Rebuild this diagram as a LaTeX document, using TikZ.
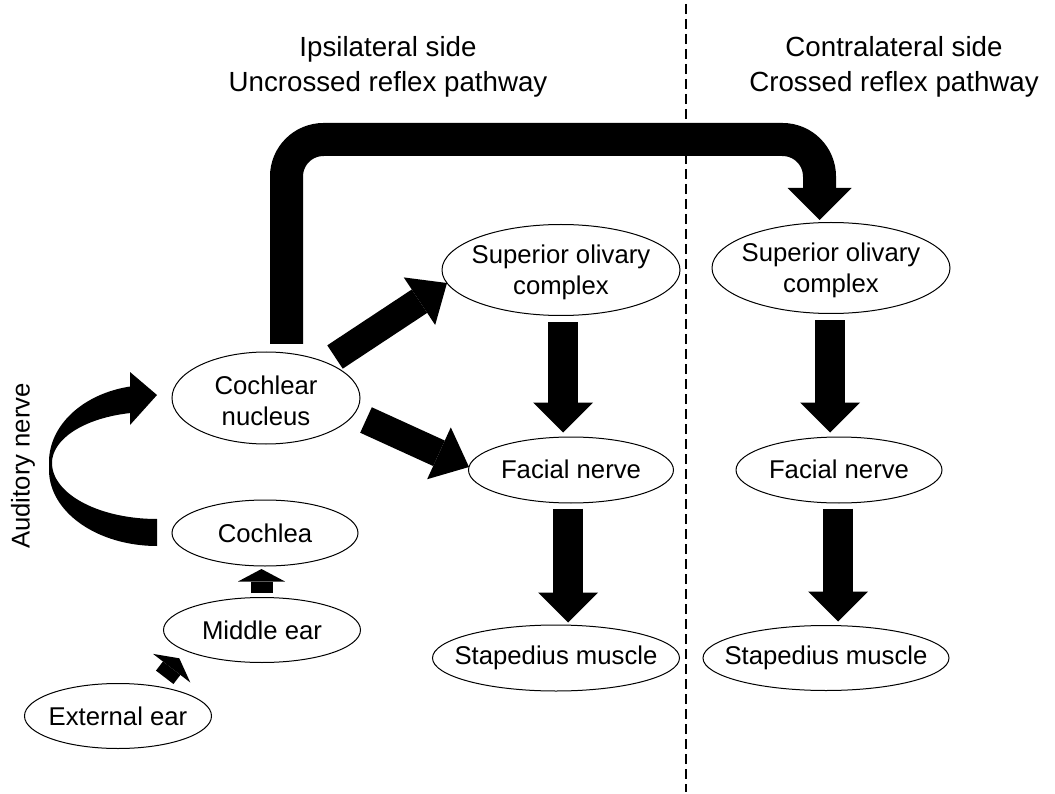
\documentclass[tikz,border=0pt]{standalone}
\usepackage{fontspec}
\setmainfont{Liberation Sans}
\usetikzlibrary{arrows.meta,shapes.geometric}
\begin{document}
\begin{tikzpicture}[x=1pt,y=-1pt,
  ell/.style={draw, ellipse, line width=1pt, inner sep=0pt},
  txt/.style={font=\fontsize{25.7}{31}\selectfont, align=center, inner sep=0pt},
  hdr/.style={font=\fontsize{27.7}{33}\selectfont, inner sep=0pt, anchor=base},
  blkv/.style={line width=30pt, -{Triangle[width=60pt,length=30pt,line width=0pt]}},
  blkd/.style={line width=28pt, -{Triangle[width=57pt,length=33pt,line width=0pt]}},
  blkbig/.style={line width=33pt, -{Triangle[width=64pt,length=32pt,line width=0pt]}},
  blks/.style={line width=22pt, -{Triangle[width=47pt,length=12.5pt,line width=0pt]}},
  divider/.style={line width=2.5pt, dash pattern=on 10pt off 5pt}
]
\fill[white] (0,0) rectangle (1055,794);
\useasboundingbox (0,0) rectangle (1055,794);

% headers
\node[hdr] (h1a) at (388,57) {Ipsilateral side};
\node[hdr] (h1b) at (388,92) {Uncrossed reflex pathway};
\node[hdr] (h2a) at (894,57) {Contralateral side};
\node[hdr] (h2b) at (894,92) {Crossed reflex pathway};

% divider
\coordinate (dtop) at (686,4);
\coordinate (dbot) at (686,792);
\draw[divider] (dtop) -- (dbot);

% ellipses
\node[ell, minimum width=188pt, minimum height=92pt] (cn) at (266,398) {};
\node[ell, minimum width=186pt, minimum height=66pt] (cochlea) at (265,533) {};
\node[ell, minimum width=197pt, minimum height=65pt] (mid) at (262,630) {};
\node[ell, minimum width=187pt, minimum height=65pt] (ext) at (118,716) {};
\node[ell, minimum width=238pt, minimum height=91pt] (soc1) at (561,270) {};
\node[ell, minimum width=205pt, minimum height=66pt] (fn1) at (571,470) {};
\node[ell, minimum width=247pt, minimum height=66pt] (st1) at (556,658) {};
\node[ell, minimum width=238pt, minimum height=91pt] (soc2) at (831,268) {};
\node[ell, minimum width=206pt, minimum height=66pt] (fn2) at (839,470) {};
\node[ell, minimum width=246pt, minimum height=65pt] (st2) at (826,658) {};

% texts
\node[txt] (cnT) at ([yshift=-3pt]cn.center) {Cochlear\\nucleus};
\node[txt] (cochleaT) at (cochlea) {Cochlea};
\node[txt] (midT) at (mid) {Middle ear};
\node[txt] (extT) at (ext) {External ear};
\node[txt] (soc1T) at ([yshift=-2pt]soc1.center) {Superior olivary\\complex};
\node[txt] (fn1T) at ([yshift=1pt]fn1.center) {Facial nerve};
\node[txt] (st1T) at (st1) {Stapedius muscle};
\node[txt] (soc2T) at ([yshift=-2pt]soc2.center) {Superior olivary\\complex};
\node[txt] (fn2T) at ([yshift=1pt]fn2.center) {Facial nerve};
\node[txt] (st2T) at (st2) {Stapedius muscle};
\node[txt, rotate=90] (an) at (23,466) {Auditory nerve};

% vertical arrows
\draw[blkv, shorten <=6.5pt, shorten >=4pt] ([xshift=2pt]soc1.south) -- ([xshift=-8pt]fn1.north);
\draw[blkv, shorten <=5pt, shorten >=2pt] ([xshift=-3pt]fn1.south) -- ([xshift=12pt]st1.north);
\draw[blkv, shorten <=6.5pt, shorten >=4pt] ([xshift=-1pt]soc2.south) -- ([xshift=-9pt]fn2.north);
\draw[blkv, shorten <=5pt, shorten >=3.5pt] ([xshift=-1pt]fn2.south) -- ([xshift=12pt]st2.north);

% diagonal arrows
\draw[blkd] ([shift={(69,-41)}]cn.center) -- ([shift={(-114,13)}]soc1.center);
\draw[blkd] ([shift={(100,22)}]cn.center) -- ([shift={(-102,-3)}]fn1.center);

% crossed pathway
\coordinate (bend) at (819.5,139.5);
\draw[blkbig, rounded corners=37pt] ([shift={(20.5,-54)}]cn.center) |- (bend) -- ([shift={(-11.5,-48)}]soc2.center);

% small arrows
\draw[blks] ([shift={(-0.5,-37)}]mid.center) -- ([shift={(-3.5,36)}]cochlea.center);
\draw[blks] ([shift={(46.7,-38.7)}]ext.center) -- ([shift={(-82.7,28.3)}]mid.center);

% auditory nerve curved arrow
\fill (157,546)
  -- plot[domain=90:180,samples=40] ({157+108*cos(\x)},{470+76*sin(\x)})
  -- (49,462)
  -- plot[domain=180:258.6,samples=40] ({150+101*cos(\x)},{462+77*sin(\x)})
  -- (130,372) -- (157,395) -- (130,425) -- (130,413)
  -- plot[domain=258.2:180,samples=40] ({150+98*cos(\x)},{463+51*sin(\x)})
  -- plot[domain=180:90,samples=40] ({157+105*cos(\x)},{463+56*sin(\x)})
  -- cycle;
\end{tikzpicture}
\end{document}
